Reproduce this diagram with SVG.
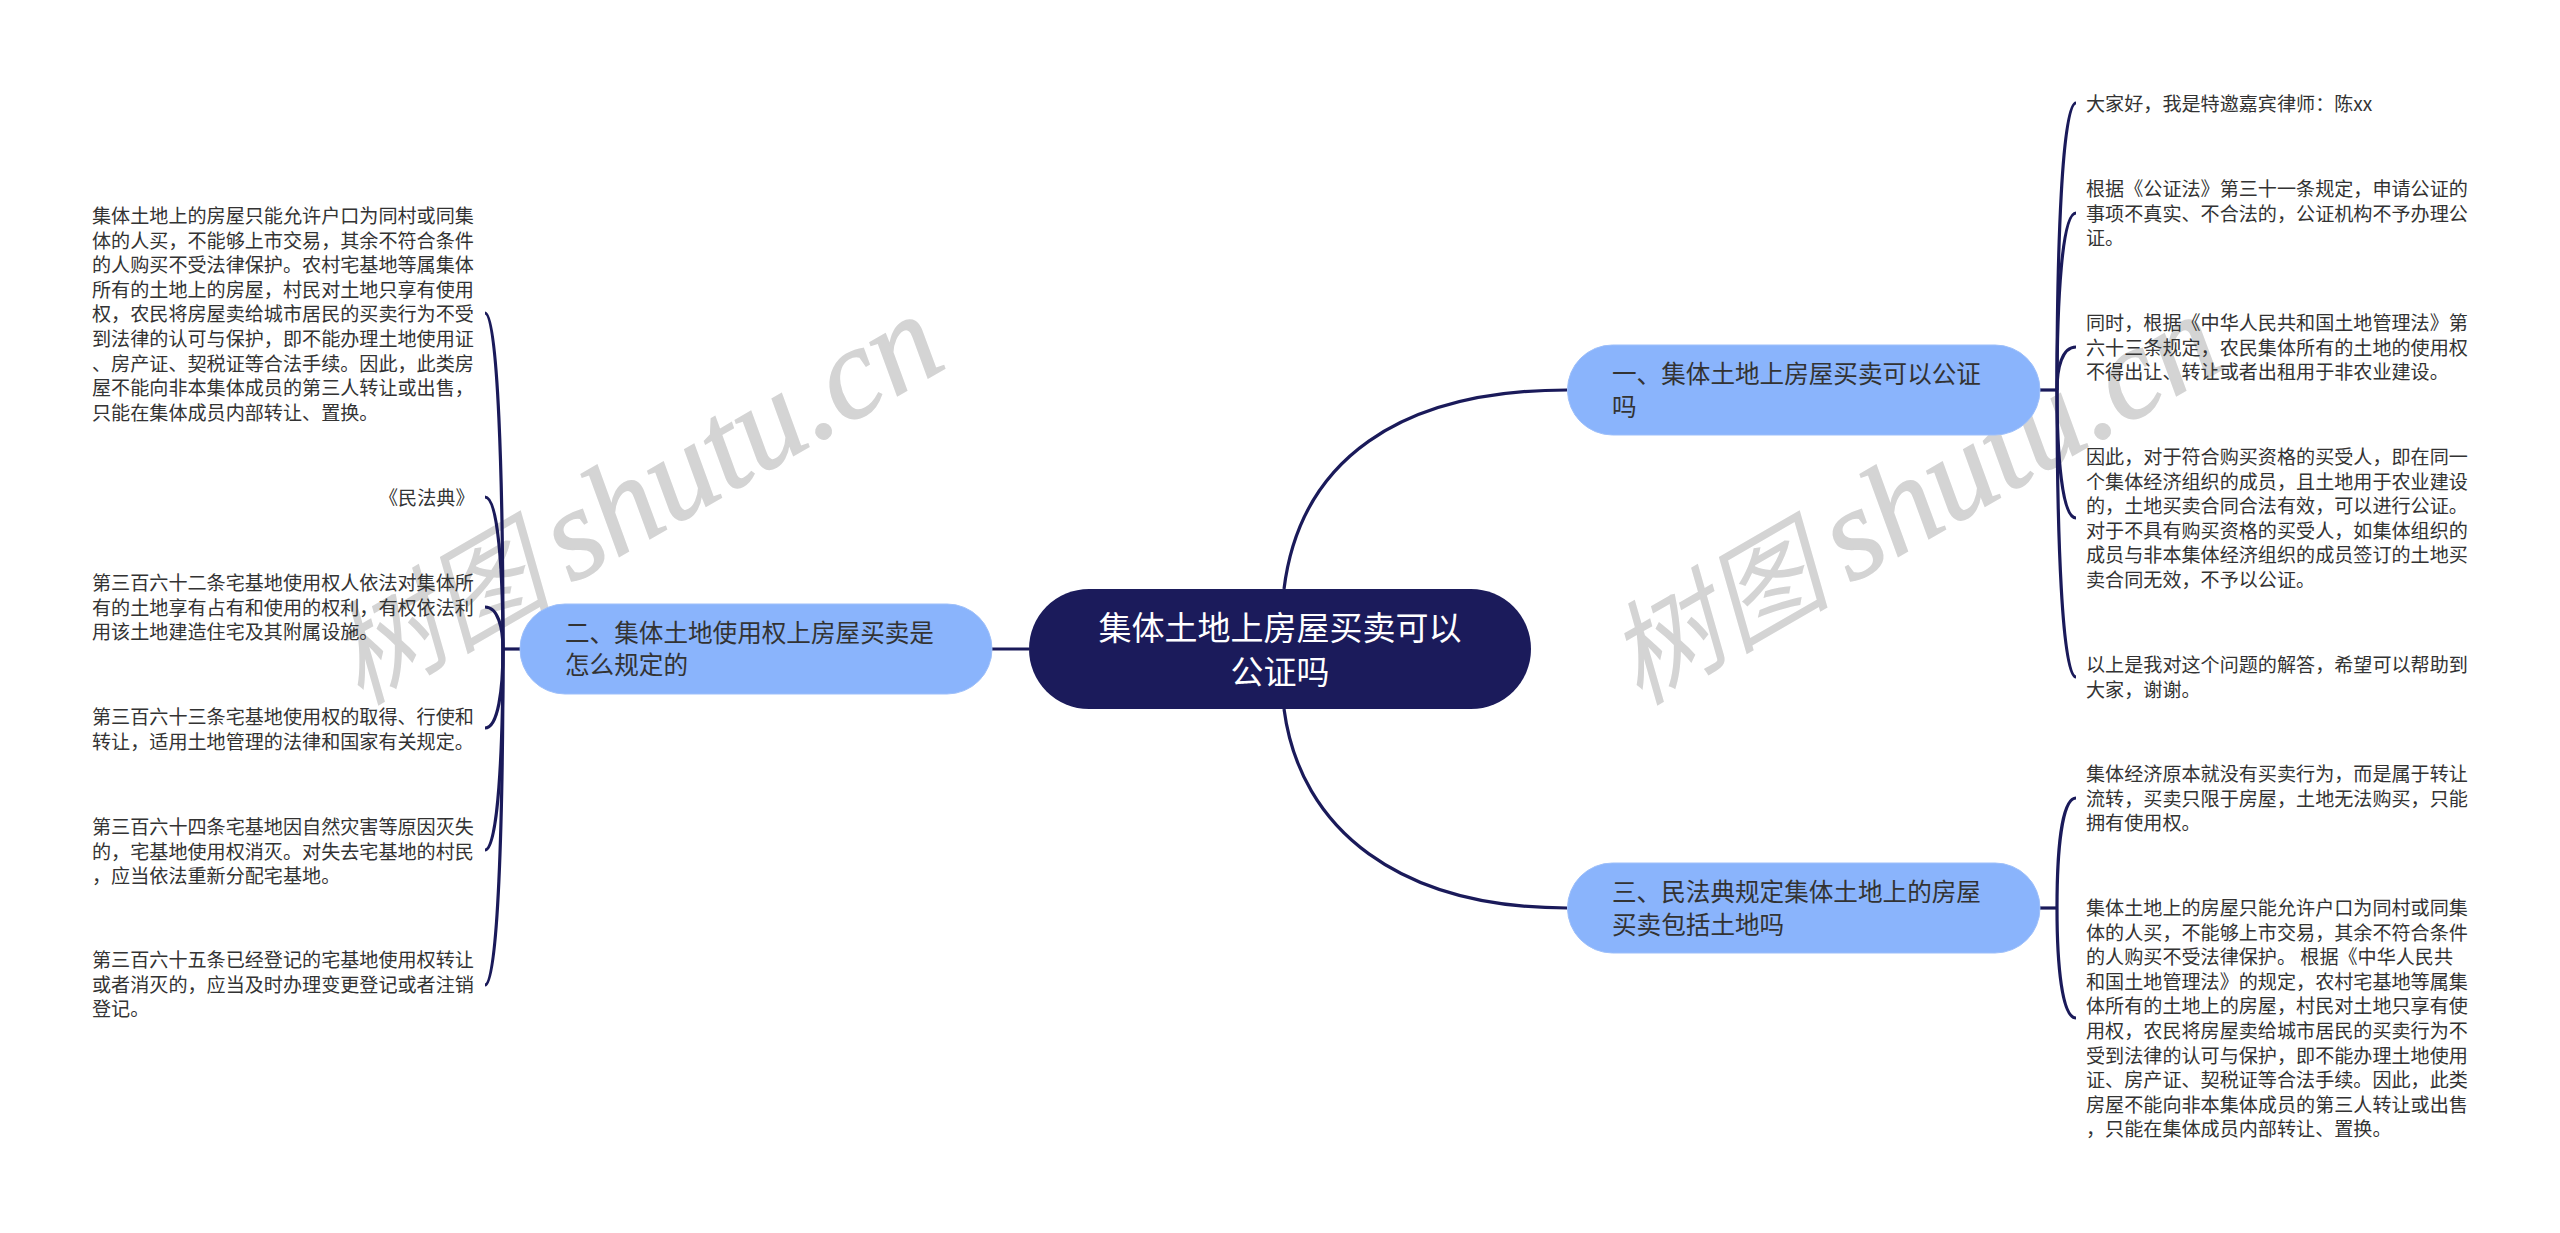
<svg xmlns="http://www.w3.org/2000/svg" width="2560" height="1233" viewBox="0 0 2560 1233">
<style>
text{font-family:"Noto Sans CJK SC","Liberation Sans",sans-serif}
.wm{font-family:"Noto Sans CJK SC",serif;font-style:italic;font-size:112px;fill:#d4d4d4}
.wl{font-family:"Liberation Serif",serif;font-style:italic;font-size:130px;stroke:#d4d4d4;stroke-width:1.500}
.leaf{font-size:19.1px;fill:#333}
.sub{font-size:24.6px;fill:#333}
.root{font-size:33px;fill:#fff;text-anchor:middle}
.subn{fill:#8ab4fc;stroke:#9dbffa;stroke-width:1}
.c{fill:none;stroke:#1a1a5a;stroke-width:3.200}
</style>
<rect width="2560" height="1233" fill="#fff"/>
<g id="watermarks">
<text class="wm" transform="translate(360 706) rotate(-30)">树图 <tspan class="wl" dx="-5">shutu.cn</tspan></text>
<text class="wm" transform="translate(1639 706) rotate(-30)">树图 <tspan class="wl" dx="-5">shutu.cn</tspan></text>
</g>
<g id="connectors">
<path class="c" d="M1284 589C1300 460 1400 390 1567 390"/>
<path class="c" d="M1284 709C1300 830 1400 908 1567 908"/>
<path class="c" d="M992 649H1029"/>
<path class="c" d="M520 649H503"/>
<path class="c" d="M503 649C503 480 498 313 485 313"/>
<path class="c" d="M503 649C503 570 498 497 485 497"/>
<path class="c" d="M503 649C503 628 498 607 485 607"/>
<path class="c" d="M503 649C503 690 498 728 485 728"/>
<path class="c" d="M503 649C503 750 498 850 485 850"/>
<path class="c" d="M503 649C503 820 498 985 485 985"/>
<path class="c" d="M2040 390H2057"/>
<path class="c" d="M2057 390C2057 250 2062 103 2076 103"/>
<path class="c" d="M2057 390C2057 300 2062 213 2076 213"/>
<path class="c" d="M2057 390C2057 368 2062 347 2076 347"/>
<path class="c" d="M2057 390C2057 455 2062 518 2076 518"/>
<path class="c" d="M2057 390C2057 535 2062 677 2076 677"/>
<path class="c" d="M2040 908H2057"/>
<path class="c" d="M2057 908C2057 850 2062 798 2076 798"/>
<path class="c" d="M2057 908C2057 965 2062 1018 2076 1018"/>
</g>
<g id="root">
<rect x="1029" y="589" width="502" height="120" rx="60" fill="#1b1b5b"/>
<text class="root" x="1280" y="640">集体土地上房屋买卖可以</text>
<text class="root" x="1280" y="684">公证吗</text>
</g>
<g id="node-1">
<rect class="subn" x="1567.500" y="345" width="472.500" height="90" rx="45"/>
<text class="sub" x="1612" y="383">一、集体土地上房屋买卖可以公证<tspan x="1612" dy="33">吗</tspan></text>
</g>
<g id="node-2">
<rect class="subn" x="520" y="604" width="472" height="90" rx="45"/>
<text class="sub" x="565" y="642">二、集体土地使用权上房屋买卖是<tspan x="565" dy="32">怎么规定的</tspan></text>
</g>
<g id="node-3">
<rect class="subn" x="1567.500" y="863" width="472.500" height="90" rx="45"/>
<text class="sub" x="1612" y="901">三、民法典规定集体土地上的房屋<tspan x="1612" dy="33">买卖包括土地吗</tspan></text>
</g>
<g id="leaf-2-1">
<text class="leaf" x="92" y="223">集体土地上的房屋只能允许户口为同村或同集<tspan x="92" dy="24.600">体的人买，不能够上市交易，其余不符合条件</tspan><tspan x="92" dy="24.600">的人购买不受法律保护。农村宅基地等属集体</tspan><tspan x="92" dy="24.600">所有的土地上的房屋，村民对土地只享有使用</tspan><tspan x="92" dy="24.600">权，农民将房屋卖给城市居民的买卖行为不受</tspan><tspan x="92" dy="24.600">到法律的认可与保护，即不能办理土地使用证</tspan><tspan x="92" dy="24.600">、房产证、契税证等合法手续。因此，此类房</tspan><tspan x="92" dy="24.600">屋不能向非本集体成员的第三人转让或出售，</tspan><tspan x="92" dy="24.600">只能在集体成员内部转让、置换。</tspan></text>
</g>
<g id="leaf-2-2">
<text class="leaf" x="379" y="505">《民法典》</text>
</g>
<g id="leaf-2-3">
<text class="leaf" x="92" y="590">第三百六十二条宅基地使用权人依法对集体所<tspan x="92" dy="24.600">有的土地享有占有和使用的权利，有权依法利</tspan><tspan x="92" dy="24.600">用该土地建造住宅及其附属设施。</tspan></text>
</g>
<g id="leaf-2-4">
<text class="leaf" x="92" y="724">第三百六十三条宅基地使用权的取得、行使和<tspan x="92" dy="24.600">转让，适用土地管理的法律和国家有关规定。</tspan></text>
</g>
<g id="leaf-2-5">
<text class="leaf" x="92" y="834">第三百六十四条宅基地因自然灾害等原因灭失<tspan x="92" dy="24.600">的，宅基地使用权消灭。对失去宅基地的村民</tspan><tspan x="92" dy="24.600">，应当依法重新分配宅基地。</tspan></text>
</g>
<g id="leaf-2-6">
<text class="leaf" x="92" y="967">第三百六十五条已经登记的宅基地使用权转让<tspan x="92" dy="24.600">或者消灭的，应当及时办理变更登记或者注销</tspan><tspan x="92" dy="24.600">登记。</tspan></text>
</g>
<g id="leaf-1-1">
<text class="leaf" x="2086" y="111">大家好，我是特邀嘉宾律师：陈xx</text>
</g>
<g id="leaf-1-2">
<text class="leaf" x="2086" y="196">根据《公证法》第三十一条规定，申请公证的<tspan x="2086" dy="24.600">事项不真实、不合法的，公证机构不予办理公</tspan><tspan x="2086" dy="24.600">证。</tspan></text>
</g>
<g id="leaf-1-3">
<text class="leaf" x="2086" y="330">同时，根据《中华人民共和国土地管理法》第<tspan x="2086" dy="24.600">六十三条规定，农民集体所有的土地的使用权</tspan><tspan x="2086" dy="24.600">不得出让、转让或者出租用于非农业建设。</tspan></text>
</g>
<g id="leaf-1-4">
<text class="leaf" x="2086" y="464">因此，对于符合购买资格的买受人，即在同一<tspan x="2086" dy="24.600">个集体经济组织的成员，且土地用于农业建设</tspan><tspan x="2086" dy="24.600">的，土地买卖合同合法有效，可以进行公证。</tspan><tspan x="2086" dy="24.600">对于不具有购买资格的买受人，如集体组织的</tspan><tspan x="2086" dy="24.600">成员与非本集体经济组织的成员签订的土地买</tspan><tspan x="2086" dy="24.600">卖合同无效，不予以公证。</tspan></text>
</g>
<g id="leaf-1-5">
<text class="leaf" x="2086" y="672">以上是我对这个问题的解答，希望可以帮助到<tspan x="2086" dy="24.600">大家，谢谢。</tspan></text>
</g>
<g id="leaf-3-1">
<text class="leaf" x="2086" y="781">集体经济原本就没有买卖行为，而是属于转让<tspan x="2086" dy="24.600">流转，买卖只限于房屋，土地无法购买，只能</tspan><tspan x="2086" dy="24.600">拥有使用权。</tspan></text>
</g>
<g id="leaf-3-2">
<text class="leaf" x="2086" y="915">集体土地上的房屋只能允许户口为同村或同集<tspan x="2086" dy="24.600">体的人买，不能够上市交易，其余不符合条件</tspan><tspan x="2086" dy="24.600">的人购买不受法律保护。 根据《中华人民共</tspan><tspan x="2086" dy="24.600">和国土地管理法》的规定，农村宅基地等属集</tspan><tspan x="2086" dy="24.600">体所有的土地上的房屋，村民对土地只享有使</tspan><tspan x="2086" dy="24.600">用权，农民将房屋卖给城市居民的买卖行为不</tspan><tspan x="2086" dy="24.600">受到法律的认可与保护，即不能办理土地使用</tspan><tspan x="2086" dy="24.600">证、房产证、契税证等合法手续。因此，此类</tspan><tspan x="2086" dy="24.600">房屋不能向非本集体成员的第三人转让或出售</tspan><tspan x="2086" dy="24.600">，只能在集体成员内部转让、置换。</tspan></text>
</g>
</svg>
